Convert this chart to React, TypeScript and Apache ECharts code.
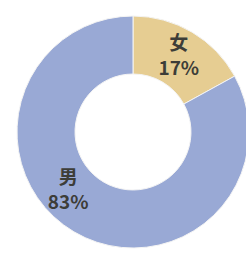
import React, { useEffect, useRef } from "react";
import * as echarts from "echarts";

const categories = ["女", "男"];
const values = [17, 83];
const colors = ["#e6cd92", "#99a9d5"];

export default function App() {
  const ref = useRef<HTMLDivElement>(null);
  useEffect(() => {
    if (!ref.current) return;
    const chart = echarts.init(ref.current, undefined, { renderer: "svg" });
    chart.setOption({
      animation: false,
      backgroundColor: "#ffffff",
      series: [
        {
          type: "pie",
          center: [133, 132],
          radius: [58, 116],
          startAngle: 90,
          clockwise: true,
          data: categories.map((c, i) => ({
            name: c,
            value: values[i],
            itemStyle: { color: colors[i] },
          })),
          itemStyle: { borderColor: "#f4f4f4", borderWidth: 1 },
          label: {
            show: true,
            position: "inside",
            formatter: (p: any) => `${p.name}\n${p.value}%`,
            fontSize: 19,
            fontWeight: "bold",
            lineHeight: 25,
            color: "#3d3d38",
            fontFamily: "Noto Sans CJK SC",
          },
          labelLine: { show: false },
          labelLayout: (p: any) =>
            p.dataIndex === 1 ? { dx: -19, dy: -21 } : { dx: 0, dy: -1 },
          emphasis: { disabled: true },
        },
      ],
    });
    return () => chart.dispose();
  }, []);
  return (
    <div
      ref={ref}
      style={{ position: "fixed", left: 0, top: 0, width: 246, height: 254 }}
    />
  );
}
